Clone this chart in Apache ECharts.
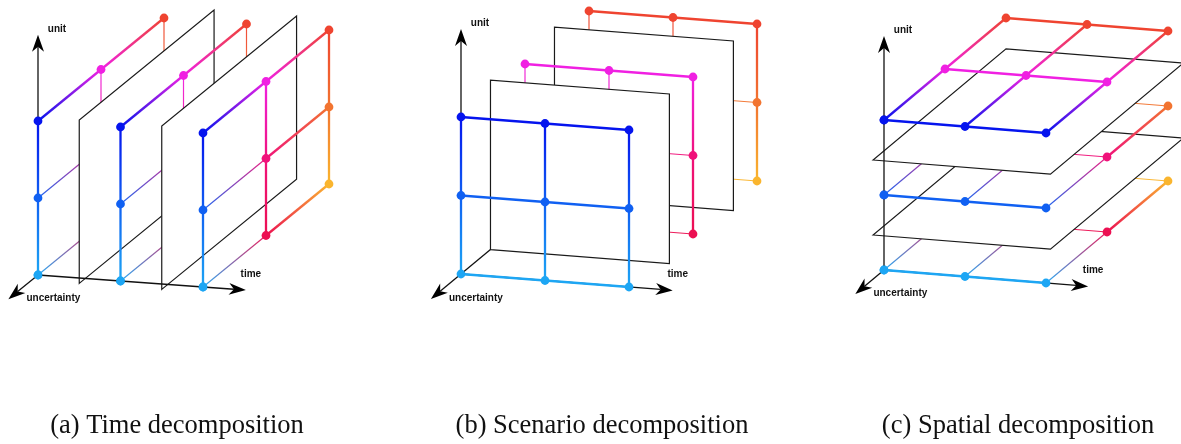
<!DOCTYPE html>
<html><head><meta charset="utf-8">
<script src="https://cdn.jsdelivr.net/npm/echarts@6/dist/echarts.min.js"></script>
<style>html,body{margin:0;padding:0;background:#fff}#chart{width:1181px;height:444px}</style>
</head><body><div id="chart"></div>
<script>
// ================= DATA =================
const timeSteps = ['t1', 't2', 't3'];
const uncertaintyScenarios = ['w1', 'w2', 'w3'];
const units = ['g1', 'g2', 'g3'];
const axisNames = ['time', 'uncertainty', 'unit'];
const panelCaptions = ['(a) Time decomposition', '(b) Scenario decomposition', '(c) Spatial decomposition'];
const decomposedDimension = ['time', 'uncertainty', 'unit'];
const cutPositions = [0.5, 1.5];

// ================= STYLE / LAYOUT =================
const NODE_COLORS = [ // [scenario index][unit index]
  ['#1DA6F4', '#1060F2', '#0514EE'],
  ['#EC1052', '#F0127A', '#F020E2'],
  ['#FAB52E', '#F27430', '#EF4430']
];
const AXIS_END = [2.52, -0.47, 3.12];       // time, uncertainty, unit (in lattice steps)
const LABEL_OFFSET = [[5, -16], [45, -1], [19, -6]];
const LAYOUT = [
  { origin: [38, 275], T: [82.5, 6], S: [63, -51.5], U: [0, -77],
    planeRange: { 1: [0, 2.14], 2: [-0.07, 2.05] }, order: 'asc',
    under: ['unit', 'uncertainty'], over: ['time'], axisStart: [0, 0, 0], caption: [177, 426],
    thin: (c, e) => (e === 1 && c[1] === 0 && c[2] < 2) || (e === 2 && c[1] >= 1 && c[0] < 2) },
  { origin: [461, 274], T: [84, 6.5], S: [64, -53], U: [0, -78.5],
    planeRange: { 0: [-0.03, 2.1], 2: [-0.03, 2.13] }, order: 'desc',
    under: ['time', 'uncertainty', 'unit'], over: [], axisStart: [0, 0.55, 0], caption: [602, 426],
    thin: (c, e) => c[1] >= 1 && ((e === 0 && c[2] < 2) || (e === 2 && c[0] < 2)) },
  { origin: [884, 270], T: [81, 6.5], S: [61, -51], U: [0, -75],
    planeRange: { 0: [-0.09, 2.1], 1: [-0.06, 2.12] }, order: 'asc',
    under: ['time', 'uncertainty'], over: ['unit'], axisStart: [0, 0, 0], caption: [1018, 426],
    thin: (c, e) => (e === 1 && c[1] === 0 && c[2] < 2) || (e === 0 && c[1] >= 1 && c[2] < 2) }
];

function project(L, c) {
  return [L.origin[0] + c[0] * L.T[0] + c[1] * L.S[0] + c[2] * L.U[0],
          L.origin[1] + c[0] * L.T[1] + c[1] * L.S[1] + c[2] * L.U[1]];
}
const col = c => NODE_COLORS[c[1]][c[2]];

// ================= BUILD PRIMITIVES (painter's order) =================
const N = [timeSteps.length, uncertaintyScenarios.length, units.length];
const prims = [];
LAYOUT.forEach((L, pi) => {
  const d = axisNames.indexOf(decomposedDimension[pi]);
  const inPlane = [0, 1, 2].filter(x => x !== d);
  L.under.forEach(name => prims.push({ kind: 'axis', panel: pi, dim: axisNames.indexOf(name) }));
  const levels = [...Array(N[d]).keys()];
  if (L.order === 'desc') levels.reverse();
  levels.forEach((k, idx) => {
    const nodes = [];
    for (let i = 0; i < N[inPlane[0]]; i++) for (let j = 0; j < N[inPlane[1]]; j++) {
      const c = [0, 0, 0]; c[d] = k; c[inPlane[0]] = i; c[inPlane[1]] = j; nodes.push(c);
    }
    nodes.forEach(c => inPlane.forEach(e => {
      if (c[e] < N[e] - 1) {
        const c2 = c.slice(); c2[e]++;
        prims.push({ kind: 'edge', panel: pi, from: c, to: c2, thin: L.thin(c, e) });
      }
    }));
    nodes.forEach(c => prims.push({ kind: 'node', panel: pi, at: c }));
    if (idx < levels.length - 1) {
      const lo = Math.min(k, levels[idx + 1]), hi = Math.max(k, levels[idx + 1]);
      const cut = cutPositions.find(v => v > lo && v < hi);
      prims.push({ kind: 'plane', panel: pi, dim: d, cut: cut, inPlane: inPlane });
    }
  });
  L.over.forEach(name => prims.push({ kind: 'axis', panel: pi, dim: axisNames.indexOf(name) }));
  L.over.forEach(name => {
    const a = axisNames.indexOf(name);
    for (let k = 0; k < N[a]; k++) { const c = [0, 0, 0]; c[a] = k; prims.push({ kind: 'node', panel: pi, at: c }); }
  });
  axisNames.forEach((name, a) => prims.push({ kind: 'label', panel: pi, dim: a, text: name }));
  prims.push({ kind: 'caption', panel: pi, text: panelCaptions[pi] });
});

// ================= RENDER =================
function renderItem(params, api) {
  const p = prims[params.dataIndex];
  const L = LAYOUT[p.panel];
  const P = c => api.coord(project(L, c));
  const z2 = params.dataIndex;
  if (p.kind === 'edge') {
    const a = P(p.from), b = P(p.to);
    return { type: 'line', z2: z2, shape: { x1: a[0], y1: a[1], x2: b[0], y2: b[1] },
      style: { stroke: new echarts.graphic.LinearGradient(a[0], a[1], b[0], b[1],
        [{ offset: 0, color: col(p.from) }, { offset: 1, color: col(p.to) }], true),
        lineWidth: p.thin ? 1.2 : 2.3, opacity: p.thin ? 0.95 : 1 } };
  }
  if (p.kind === 'node') {
    const a = P(p.at);
    return { type: 'circle', z2: z2, shape: { cx: a[0], cy: a[1], r: 4.4 }, style: { fill: col(p.at) } };
  }
  if (p.kind === 'plane') {
    const [e1, e2] = p.inPlane;
    const r1 = L.planeRange[e1], r2 = L.planeRange[e2];
    const corner = (v1, v2) => { const c = [0, 0, 0]; c[p.dim] = p.cut; c[e1] = v1; c[e2] = v2; return P(c); };
    const pts = [corner(r1[0], r2[0]), corner(r1[1], r2[0]), corner(r1[1], r2[1]), corner(r1[0], r2[1])];
    return { type: 'polygon', z2: z2, shape: { points: pts }, style: { fill: '#ffffff', stroke: '#1a1a1a', lineWidth: 1.2 } };
  }
  if (p.kind === 'axis') {
    const c0 = [0, 0, 0], c1 = [0, 0, 0];
    c0[p.dim] = L.axisStart[p.dim]; c1[p.dim] = AXIS_END[p.dim];
    const A = P(c0), B = P(c1);
    const dx = B[0] - A[0], dy = B[1] - A[1], len = Math.hypot(dx, dy);
    const ux = dx / len, uy = dy / len, nx = -uy, ny = ux;
    const HL = 17, HW = 6, NOTCH = 5;
    const base = [B[0] - ux * HL, B[1] - uy * HL];
    const notch = [B[0] - ux * (HL - NOTCH), B[1] - uy * (HL - NOTCH)];
    return { type: 'group', children: [
      { type: 'line', z2: z2, shape: { x1: A[0], y1: A[1], x2: notch[0], y2: notch[1] }, style: { stroke: '#111', lineWidth: 1.3 } },
      { type: 'polygon', z2: z2, shape: { points: [B, [base[0] + nx * HW, base[1] + ny * HW], notch, [base[0] - nx * HW, base[1] - ny * HW]] },
        style: { fill: '#000' } }
    ] };
  }
  if (p.kind === 'label') {
    const c1 = [0, 0, 0]; c1[p.dim] = AXIS_END[p.dim];
    const B = P(c1);
    return { type: 'text', z2: z2, x: B[0] + LABEL_OFFSET[p.dim][0], y: B[1] + LABEL_OFFSET[p.dim][1],
      style: { text: p.text, fill: '#111', font: 'bold 10px "Liberation Sans", Arial, sans-serif', align: 'center', verticalAlign: 'middle' } };
  }
  if (p.kind === 'caption') {
    const a = api.coord(L.caption);
    return { type: 'text', z2: z2, x: a[0], y: a[1],
      style: { text: p.text, fill: '#111', font: '26.5px "Liberation Serif", "Times New Roman", serif', align: 'center', verticalAlign: 'middle' } };
  }
  return null;
}

const chart = echarts.init(document.getElementById('chart'), null, { renderer: 'canvas' });
chart.setOption({
  animation: false,
  backgroundColor: '#ffffff',
  grid: { left: 0, right: 0, top: 0, bottom: 0 },
  xAxis: { type: 'value', min: 0, max: 1181, show: false },
  yAxis: { type: 'value', min: 0, max: 444, inverse: true, show: false },
  series: [{
    type: 'custom', coordinateSystem: 'cartesian2d', silent: true, clip: false,
    data: prims.map(() => [0, 0]),
    renderItem: renderItem
  }]
});
</script>
</body></html>
